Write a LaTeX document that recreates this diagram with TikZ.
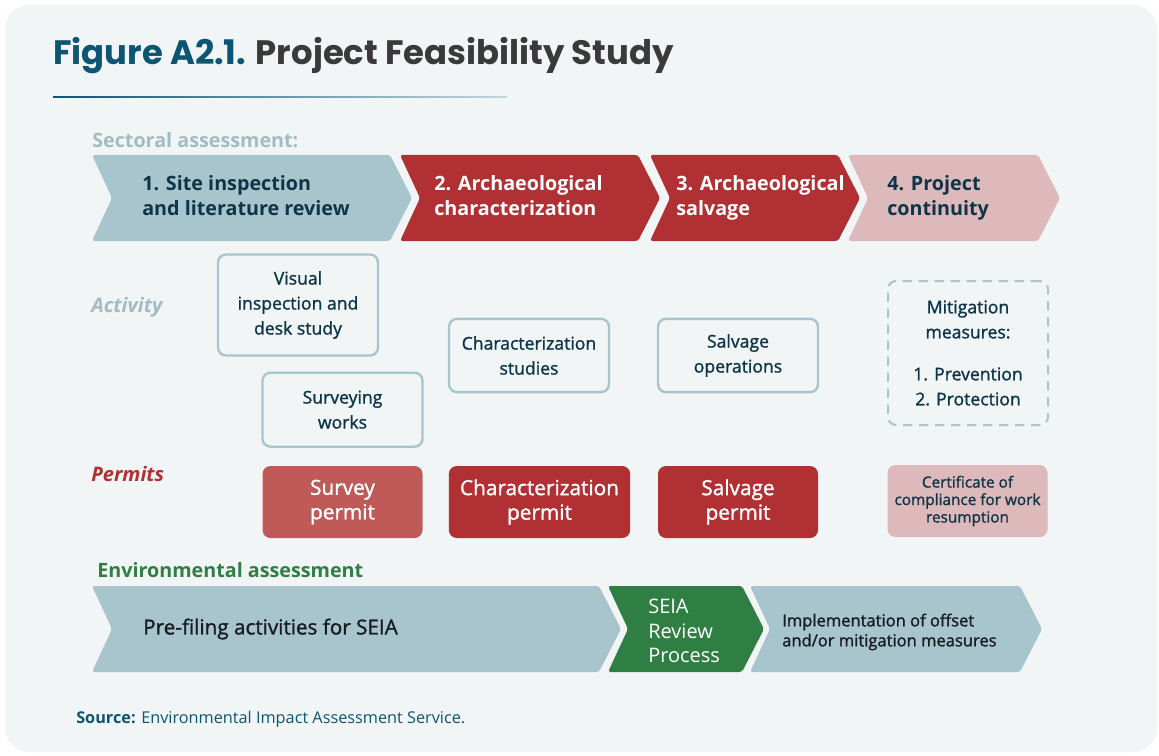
\documentclass[tikz,border=0pt]{standalone}
\usepackage{fontspec}
\setmainfont{Open Sans}
\newfontfamily\semi{Open Sans}[FakeBold=1.3]
\newfontfamily\titelfont{Poppins}
\definecolor{panel}{HTML}{F1F5F6}
\definecolor{stahl}{HTML}{A8C5CE}
\definecolor{rot}{HTML}{B13033}
\definecolor{hellrot}{HTML}{C05A59}
\definecolor{rosa}{HTML}{DEB9BB}
\definecolor{gruen}{HTML}{2F7F44}
\definecolor{navy}{HTML}{0E3547}
\definecolor{titel}{HTML}{0D5572}
\definecolor{grau}{HTML}{A3BCC4}
\definecolor{dunkel}{HTML}{3A3A3A}
\definecolor{schwarz}{HTML}{161C22}

\begin{document}
\begin{tikzpicture}[x=0.75pt, y=-0.75pt,
      chev/.style={rounded corners=2pt},
      chevtext/.style={anchor=west, align=left, inner sep=0pt, text height=11pt, text depth=3.5pt,
        font=\bfseries\fontsize{14.8}{18.75}\selectfont},
      block/.style={draw=stahl, line width=1.8pt, rounded corners=6pt, fill=panel,
        text=navy, align=center, font=\semi\fontsize{13.2}{18.75}\selectfont,
        minimum width=120pt, inner sep=0pt},
      permit/.style={rounded corners=6pt, text=white, align=center,
        font=\semi\fontsize{15.6}{18.4}\selectfont,
        minimum width=120pt, minimum height=54pt, inner sep=0pt},
      marke/.style={anchor=base west, inner sep=0pt, font=\bfseries\fontsize{14.8}{17}\selectfont}]
    \useasboundingbox (0,0) rectangle (1159,756);
    \fill[white] (0,0) rectangle (1159,756);
    \fill[panel, rounded corners=18pt] (5,5) rectangle (1157,752);

    \node[anchor=base west, inner sep=0pt, text=dunkel, font=\titelfont\bfseries\fontsize{25.4}{28}\selectfont]
      (titel) at (53,65) {{\color{titel}Figure A2.1.} Project Feasibility Study};
    \shade[left color=titel, right color=stahl!70] (53,96.3) rectangle (507,97.7);

    \node[marke, text=grau] (sektor) at (92,147) {Sectoral assessment:};
    \foreach \a/\b/\f in {92/412/stahl, 400/660/rot, 650/860/rot, 848/1060/rosa}
      \fill[chev, \f] (\a,155) -- (\b-22,155) -- (\b,198) -- (\b-22,241) -- (\a,241) -- (\a+20,198) -- cycle;
    \node[chevtext, text=navy] (stufe1) at (142,210) {1. Site inspection\\and literature review};
    \node[chevtext, text=white] (stufe2) at (434,210) {2. Archaeological\\characterization};
    \node[chevtext, text=white] (stufe3) at (676,210) {3. Archaeological\\salvage};
    \node[chevtext, text=navy] (stufe4) at (887,210) {4. Project\\continuity};

    \node[marke, text=grau, font=\bfseries\itshape\fontsize{15}{18}\selectfont] (aktiv) at (91,312) {Activity};
    \node[block, minimum height=75.75pt] (sicht) at (298,305) {Visual\\inspection and\\desk study};
    \node[block, minimum height=55.5pt] (vermessung) at (342.5,409.7) {Surveying\\works};
    \node[block, minimum height=55pt] (studien) at (529,355.5) {Characterization\\studies};
    \node[block, minimum height=55pt] (bergung) at (738,355.5) {Salvage\\operations};
    \node[block, line width=1.5pt, dash pattern=on 7pt off 5pt, minimum height=108pt]
      (massnahmen) at (968,353) {Mitigation\\measures:\\[12.75pt]1. Prevention\\2. Protection};

    \node[marke, text=rot, font=\bfseries\itshape\fontsize{15}{18}\selectfont] (genehm) at (91,481) {Permits};
    \node[permit, fill=hellrot] (p1) at (342.5,502) {Survey\\permit};
    \node[permit, fill=rot, minimum width=136pt] (p2) at (539.5,502) {Characterization\\permit};
    \node[permit, fill=rot] (p3) at (738,502) {Salvage\\permit};
    \node[permit, fill=rosa, text=navy, font=\semi\fontsize{11.5}{13.1}\selectfont]
      (p4) at (967.5,501) {Certificate of\\compliance for work\\resumption};

    \node[marke, text=gruen] (umwelt) at (97,577) {Environmental assessment};
    \foreach \a/\b/\f in {92/621/stahl, 608/764/gruen, 750/1042/stahl}
      \fill[chev, \f] (\a,586) -- (\b-22,586) -- (\b,629) -- (\b-22,672) -- (\a,672) -- (\a+20,629) -- cycle;
    \node[anchor=west, inner sep=0pt, text=schwarz, font=\semi\fontsize{15.5}{18}\selectfont]
      (vorab) at (143,629) {Pre-filing activities for SEIA};
    \node[anchor=west, align=left, inner sep=0pt, text=white, font=\fontsize{15}{18.4}\selectfont]
      (pruefung) at (648,631) {SEIA\\Review\\Process};
    \node[anchor=west, align=left, inner sep=0pt, text=schwarz, font=\semi\fontsize{12.4}{15}\selectfont]
      (umsetzung) at (782,632) {Implementation of offset\\and/or mitigation measures};

    \node[anchor=base west, inner sep=0pt, text=titel, font=\fontsize{12.2}{14}\selectfont]
      (quelle) at (76,723) {\textbf{Source:} Environmental Impact Assessment Service.};
  \end{tikzpicture}
\end{document}
